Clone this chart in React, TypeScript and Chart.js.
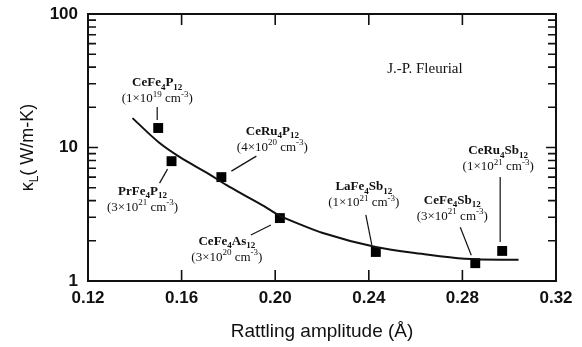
import React, { useEffect, useRef } from 'react';
import { Chart, registerables } from 'chart.js';
Chart.register(...registerables);

// ---- data ----
const amplitude = [0.150, 0.1557, 0.177, 0.202, 0.243, 0.2855, 0.297];
const kappaL = [14.0, 7.9, 6.0, 2.96, 1.65, 1.36, 1.68];
const compounds = ['CeFe_4P_12', 'PrFe_4P_12', 'CeRu_4P_12', 'CeFe_4As_12', 'LaFe_4Sb_12', 'CeFe_4Sb_12', 'CeRu_4Sb_12'];
const carriers = ['(1×10^19 cm^-3)', '(3×10^21 cm^-3)', '(4×10^20 cm^-3)', '(3×10^20 cm^-3)', '(1×10^21 cm^-3)', '(3×10^21 cm^-3)', '(1×10^21 cm^-3)'];
const fitX = [0.139, 0.1506, 0.1591, 0.1719, 0.1791, 0.1877, 0.1962, 0.2017, 0.2115, 0.220, 0.243, 0.2626, 0.281, 0.304];
const fitY = [16.6, 10.8, 8.5, 6.3, 5.24, 4.3, 3.55, 3.1, 2.62, 2.3, 1.80, 1.60, 1.47, 1.44];
const xTicks = [0.12, 0.16, 0.20, 0.24, 0.28, 0.32];
const yTicks = [1, 10, 100];
const xTitle = 'Rattling amplitude (Å)';
const yTitle = ['κ', 'L', '( W/m-K)'];
const credit = 'J.-P. Fleurial';

// ---- label placement (pixel offsets from each marker) ----
const labelLayout = [
  { dx: -1, dy: -46, lead: [-1, -21, -1, -8] },
  { dx: -29, dy: 29, lead: [-4, 8, -12, 22] },
  { dx: 51, dy: -47, lead: [10, -6, 35, -21] },
  { dx: -53, dy: 22, lead: [-9, 7, -29, 17] },
  { dx: -12, dy: -66, lead: [-10, -37, -4, -7] },
  { dx: -23, dy: -64, lead: [-15, -36, -4, -8] },
  { dx: -4, dy: -101, lead: [-2, -74, -2, -9] },
];

type Seg = { t: string; k: 'n' | 'sub' | 'sup' };
function parseRich(s: string): Seg[] {
  const out: Seg[] = [];
  const re = /([_^])([-0-9]+)|([^_^]+)/g;
  let m: RegExpExecArray | null;
  while ((m = re.exec(s))) {
    if (m[1]) out.push({ t: m[2], k: m[1] === '_' ? 'sub' : 'sup' });
    else out.push({ t: m[3], k: 'n' });
  }
  return out;
}

function drawRich(ctx: CanvasRenderingContext2D, segs: Seg[], cx: number, baseY: number, size: number, weight: string, family: string) {
  const fontFor = (k: string) => `${weight} ${k === 'n' ? size : Math.round(size * 0.68)}px ${family}`;
  let w = 0;
  for (const s of segs) { ctx.font = fontFor(s.k); w += ctx.measureText(s.t).width; }
  let x = cx - w / 2;
  ctx.textAlign = 'left';
  ctx.textBaseline = 'alphabetic';
  for (const s of segs) {
    ctx.font = fontFor(s.k);
    const off = s.k === 'sub' ? size * 0.25 : s.k === 'sup' ? -size * 0.42 : 0;
    ctx.fillText(s.t, x, baseY + off);
    x += ctx.measureText(s.t).width;
  }
}

const framePlugin = {
  id: 'framePlugin',
  afterDatasetsDraw(chart: any) {
    const { ctx, chartArea: a, scales } = chart;
    const xs = scales.x, ys = scales.y;
    ctx.save();
    ctx.strokeStyle = '#111';
    ctx.fillStyle = '#111';
    ctx.lineWidth = 2;
    ctx.strokeRect(a.left, a.top, a.right - a.left, a.bottom - a.top);
    ctx.lineWidth = 1.6;
    ctx.beginPath();
    for (const v of xTicks) {
      const px = xs.getPixelForValue(v);
      if (px <= a.left + 2 || px >= a.right - 2) continue;
      ctx.moveTo(px, a.bottom); ctx.lineTo(px, a.bottom - 11);
      ctx.moveTo(px, a.top); ctx.lineTo(px, a.top + 11);
    }
    for (let d = 1; d < 100; d *= 10) {
      for (let k = 1; k <= 10; k++) {
        const v = d * k;
        if (v > 100) continue;
        const py = ys.getPixelForValue(v);
        const len = (k === 1 || k === 10) ? 10 : 8;
        ctx.moveTo(a.left, py); ctx.lineTo(a.left + len, py);
        ctx.moveTo(a.right, py); ctx.lineTo(a.right - len, py);
      }
    }
    ctx.stroke();

    ctx.lineWidth = 1.2;
    const fam = '"Liberation Serif", "DejaVu Serif", serif';
    amplitude.forEach((xv, i) => {
      const px = xs.getPixelForValue(xv);
      const py = ys.getPixelForValue(kappaL[i]);
      const L = labelLayout[i];
      ctx.beginPath();
      ctx.moveTo(px + L.lead[0], py + L.lead[1]);
      ctx.lineTo(px + L.lead[2], py + L.lead[3]);
      ctx.stroke();
      drawRich(ctx, parseRich(compounds[i]), px + L.dx, py + L.dy + 4.5, 13, 'bold', fam);
      drawRich(ctx, parseRich(carriers[i]), px + L.dx, py + L.dy + 20.5, 13, 'normal', fam);
    });

    ctx.font = `15px ${fam}`;
    ctx.textAlign = 'center';
    ctx.textBaseline = 'middle';
    ctx.fillText(credit, xs.getPixelForValue(0.264), ys.getPixelForValue(39));

    ctx.translate(27, (a.top + a.bottom) / 2);
    ctx.rotate(-Math.PI / 2);
    drawRich(ctx, [{ t: yTitle[0], k: 'n' }, { t: yTitle[1], k: 'sub' }, { t: yTitle[2], k: 'n' }], 0, 6, 18, 'normal', '"Liberation Sans", Arial, sans-serif');
    ctx.restore();
  },
};

export default function App() {
  const ref = useRef<HTMLCanvasElement>(null);
  useEffect(() => {
    document.body.style.margin = '0';
    const canvas = ref.current!;
    const tickFont = { family: '"Liberation Sans", Arial, sans-serif', size: 17, weight: 'bold' as const };
    const chart = new Chart(canvas, {
      type: 'scatter',
      data: {
        datasets: [
          {
            type: 'line',
            data: fitX.map((x, i) => ({ x, y: fitY[i] })),
            borderColor: '#111',
            borderWidth: 2,
            pointRadius: 0,
            cubicInterpolationMode: 'monotone',
            fill: false,
          } as any,
          {
            data: amplitude.map((x, i) => ({ x, y: kappaL[i] })),
            pointStyle: 'rect',
            pointRadius: 7,
            backgroundColor: '#000',
            borderColor: '#000',
            borderWidth: 0,
          },
        ],
      },
      options: {
        responsive: false,
        animation: false,
        devicePixelRatio: 1,
        layout: { padding: { left: 0, right: 26, top: 14, bottom: 0 } },
        plugins: { legend: { display: false }, tooltip: { enabled: false } },
        scales: {
          x: {
            type: 'linear',
            min: 0.12,
            max: 0.32,
            grid: { display: false, drawTicks: false },
            border: { display: false },
            afterBuildTicks: (s: any) => { s.ticks = xTicks.map((v) => ({ value: v })); },
            afterFit: (s: any) => { s.height = 66; s.paddingLeft = 0; s.paddingRight = 0; },
            ticks: { color: '#111', font: tickFont, padding: 7, maxRotation: 0, callback: (v: any) => Number(v).toFixed(2) },
            title: {
              display: true,
              text: xTitle,
              color: '#111',
              font: { family: '"Liberation Sans", Arial, sans-serif', size: 19 },
              padding: { top: 0, bottom: 4 },
            },
          },
          y: {
            type: 'logarithmic',
            min: 1,
            max: 100,
            grid: { display: false, drawTicks: false },
            border: { display: false },
            afterBuildTicks: (s: any) => { s.ticks = yTicks.map((v) => ({ value: v })); },
            afterFit: (s: any) => { s.width = 88; s.paddingTop = 0; s.paddingBottom = 0; },
            ticks: { color: '#111', font: tickFont, padding: 10, callback: (v: any) => String(v) },
          },
        },
      },
      plugins: [framePlugin],
    } as any);
    return () => chart.destroy();
  }, []);
  return <canvas ref={ref} width={582} height={347} style={{ display: 'block', width: 582, height: 347 }} />;
}
